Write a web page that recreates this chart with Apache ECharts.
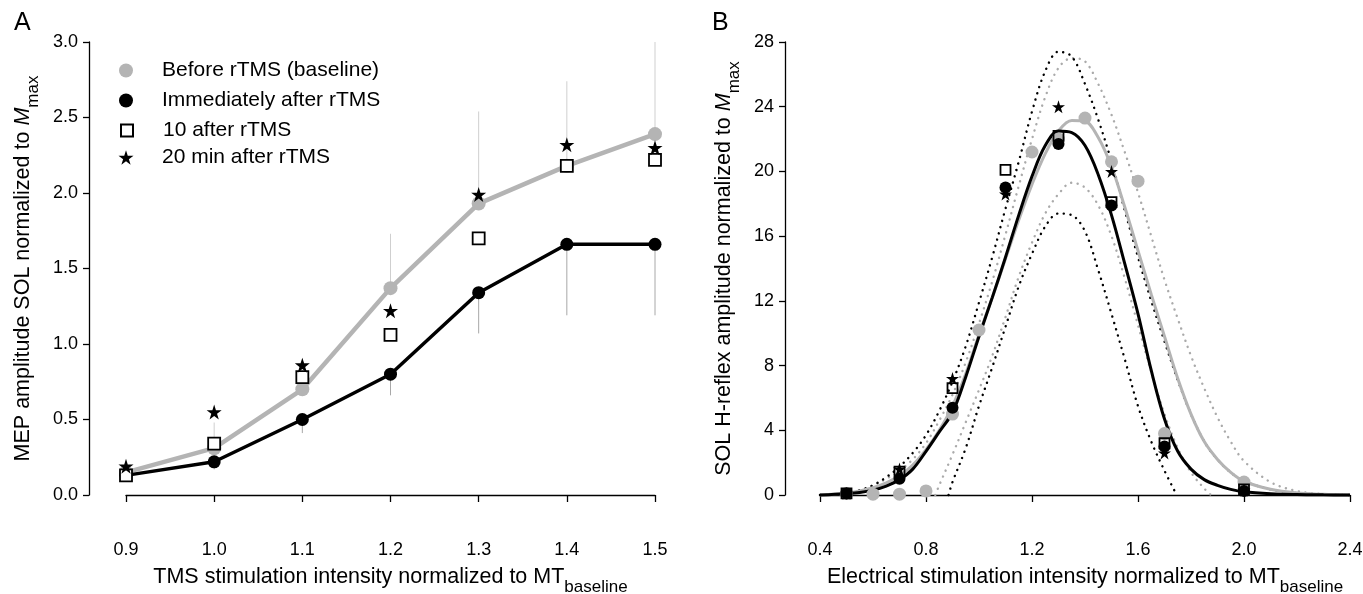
<!DOCTYPE html>
<html>
<head>
<meta charset="utf-8">
<script src="https://cdn.jsdelivr.net/npm/echarts@6/dist/echarts.min.js"></script>
<style>
html,body{margin:0;padding:0;background:#fff;}
#chart{width:1363px;height:594px;}
</style>
</head>
<body>
<div id="chart"></div>
<script>
// ---------- Panel A data ----------
const xA = [0.9, 1.0, 1.1, 1.2, 1.3, 1.4, 1.5];
const baselineA = [0.15, 0.31, 0.70, 1.37, 1.93, 2.18, 2.39];
const immediateA = [0.13, 0.22, 0.50, 0.80, 1.34, 1.66, 1.66];
const after10A = [0.13, 0.34, 0.78, 1.06, 1.70, 2.18, 2.22];
const after20A = [0.19, 0.55, 0.86, 1.22, 1.99, 2.32, 2.30];
const errUpA = [null, 0.48, null, 1.73, 2.54, 2.74, 3.0];
const errLoA = [null, 0.17, 0.41, 0.66, 1.07, 1.19, 1.19];
const ticksAX = [0.9, 1.5, 0.1];
const ticksAY = [0, 3, 0.5];

// ---------- Panel B data ----------
const xBaseB = [0.5, 0.6, 0.7, 0.8, 0.9, 1.0, 1.2, 1.3, 1.4, 1.5, 1.6, 1.7, 2.0];
const baselineB = [0.1, 0.05, 0.05, 0.25, 5.0, 10.2, 21.2, 22.0, 23.3, 20.6, 19.4, 3.8, 0.8];
const xPostB = [0.5, 0.7, 0.9, 1.1, 1.3, 1.5, 1.7, 2.0];
const immediateB = [0.1, 1.0, 5.4, 19.0, 21.7, 17.9, 3.0, 0.25];
const after10B = [0.1, 1.45, 6.6, 20.1, 22.2, 18.1, 3.2, 0.35];
const after20B = [0.1, 1.6, 7.2, 18.6, 24.0, 20.0, 2.6, 0.3];

const curveX = [0.4,0.5,0.55,0.6,0.65,0.7,0.75,0.8,0.85,0.9,0.95,1.0,1.05,1.1,1.15,1.2,1.25,1.3,1.35,1.4,1.45,1.5,1.55,1.6,1.65,1.7,1.75,1.8,1.85,1.9,1.95,2.0,2.1,2.2,2.3,2.4];
const fitBlackB = [0,0.08,0.15,0.3,0.55,0.95,1.6,2.7,3.9,5.1,7.3,9.8,12.2,14.7,17.3,19.7,21.6,22.5,22.4,21.6,19.8,17.3,14.3,11.2,7.7,4.7,2.7,1.6,0.95,0.6,0.35,0.2,0.08,0.03,0.01,0];
const fitGrayB = [0,0.12,0.25,0.45,0.75,1.2,1.85,2.8,4.0,5.5,7.5,9.9,12.2,14.6,17.0,19.2,21.1,22.5,23.15,23.1,22.1,20.3,17.8,15.1,12.4,9.8,7.2,5.0,3.3,2.2,1.4,0.85,0.35,0.12,0.04,0];
const ciBlackUpB = [0,0.1,0.3,0.6,1.1,1.75,2.6,3.7,5.2,7.0,9.2,11.9,14.7,17.7,20.6,23.7,26.2,27.4,27.1,25.4,23.2,20.6,17.6,14.7,12.0,9.5,7.1,5.0,3.3,2.2,1.4,0.85,0.35,0.12,0.04,0];
const ciGrayUpB = [0,0.05,0.2,0.6,1.0,1.5,2.2,3.2,4.6,6.2,8.2,10.6,13.2,16.1,19.1,22.0,24.6,26.4,27.0,26.8,25.4,23.5,21.2,18.7,16.0,13.3,10.9,8.6,6.6,4.8,3.3,2.1,0.8,0.25,0.06,0];
const ciBlackLoX = [0.885,0.9,0.95,1.0,1.05,1.1,1.15,1.2,1.25,1.3,1.35,1.4,1.45,1.5,1.55,1.6,1.65,1.7,1.746];
const ciBlackLoB = [0,0.8,2.9,5.5,7.9,10.4,12.9,14.9,16.6,17.4,17.3,16.3,13.9,11.2,8.4,5.5,3.3,1.5,0];
const ciGrayLoX = [0.835,0.85,0.9,0.95,1.0,1.05,1.1,1.15,1.2,1.25,1.3,1.35,1.4,1.45,1.5,1.55,1.6,1.65,1.7,1.75,1.8,1.85,1.875];
const ciGrayLoB = [0,0.6,2.5,4.5,6.5,8.6,11.0,13.5,15.6,17.4,18.6,19.3,19.0,17.9,16.0,13.4,10.5,7.6,5.0,2.9,1.4,0.4,0];
const ticksBX = [0.4, 2.4, 0.4];
const ticksBY = [0, 28, 4];

const names = ['Before rTMS (baseline)', 'Immediately after rTMS', '10 after rTMS', '20 min after rTMS'];

// ---------- helpers ----------
const zip = (xs, ys) => xs.map((x, i) => [x, ys[i]]);
const STAR = 'path://M50,0 L61.2,34.5 L97.6,34.5 L68.2,55.9 L79.4,90.5 L50,69.1 L20.6,90.5 L31.8,55.9 L2.4,34.5 L38.8,34.5 Z';
const GRAY = '#b4b4b4';
const FONT = "'Liberation Sans', Arial, sans-serif";

function errData(xs, from, to) {
  const out = [];
  xs.forEach((x, i) => { if (to[i] != null) out.push([x, from[i], to[i]]); });
  return out;
}
function errSeries(data, color) {
  return {
    type: 'custom', xAxisIndex: 0, yAxisIndex: 0, silent: true, z: 1,
    data: data,
    encode: { x: 0, y: [1, 2] },
    renderItem: function (params, api) {
      const x = api.value(0);
      const p1 = api.coord([x, api.value(1)]);
      const p2 = api.coord([x, api.value(2)]);
      return { type: 'line', shape: { x1: p1[0], y1: p1[1], x2: p2[0], y2: p2[1] },
               style: { stroke: color, lineWidth: 1 } };
    }
  };
}
const titleRich = {
  m: { fontSize: 21.5, color: '#000', fontFamily: FONT, verticalAlign: 'top', lineHeight: 23 },
  i: { fontSize: 21.5, color: '#000', fontFamily: FONT, fontStyle: 'italic', verticalAlign: 'top', lineHeight: 23 },
  s: { fontSize: 17, color: '#000', fontFamily: FONT, verticalAlign: 'bottom', lineHeight: 30 }
};
function xAxisCfg(grid, t, name, fmt) {
  return {
    gridIndex: grid, type: 'value', min: t[0], max: t[1], interval: t[2], offset: 17,
    axisLine: { lineStyle: { color: '#000', width: 1.3 } },
    axisTick: { length: 7, lineStyle: { color: '#000', width: 1.3 } },
    splitLine: { show: false },
    axisLabel: { formatter: fmt, fontSize: 18, margin: 29, color: '#000', fontFamily: FONT },
    name: name, nameLocation: 'middle', nameGap: 54,
    nameTextStyle: { color: '#000', rich: titleRich }
  };
}
function yAxisCfg(grid, t, off, name, gap, fmt) {
  return {
    gridIndex: grid, type: 'value', min: t[0], max: t[1], interval: t[2], offset: off,
    axisLine: { show: true, lineStyle: { color: '#000', width: 1.3 } },
    axisTick: { show: true, length: 6, lineStyle: { color: '#000', width: 1.3 } },
    splitLine: { show: false },
    axisLabel: { formatter: fmt, fontSize: 18, margin: 11, color: '#000', fontFamily: FONT },
    name: name, nameLocation: 'middle', nameGap: gap, nameRotate: 90,
    nameTextStyle: { color: '#000', rich: titleRich }
  };
}
function curve(name, xs, ys, color, dotted, z) {
  return {
    name: name, type: 'line', xAxisIndex: 1, yAxisIndex: 1, data: zip(xs, ys),
    showSymbol: false, symbol: 'none', smooth: 0.35, clip: false, silent: true, z: z,
    lineStyle: dotted ? { color: color, width: 2.4, type: [0.1, 6.5], cap: 'round' }
                      : { color: color, width: 3 }
  };
}
function legendItem(name, icon, top, size, pad) {
  return {
    data: [{ name: name, icon: icon }], orient: 'vertical',
    left: 126 - size / 2, top: top, padding: 0, itemWidth: size, itemHeight: size,
    selectedMode: false,
    textStyle: { fontSize: 21, color: '#000', padding: [0, 0, 0, pad], fontFamily: FONT }
  };
}

const chart = echarts.init(document.getElementById('chart'), null, { renderer: 'canvas' });
const fmt1 = v => (Math.round(v * 10) / 10).toFixed(1);
const fmt0 = v => String(Math.round(v));

const option = {
  animation: false,
  backgroundColor: '#fff',
  textStyle: { fontFamily: FONT },
  title: [
    { text: 'A', left: 9, top: 6, textStyle: { fontSize: 25, fontWeight: 'normal', color: '#000', fontFamily: FONT } },
    { text: 'B', left: 707, top: 6, textStyle: { fontSize: 25, fontWeight: 'normal', color: '#000', fontFamily: FONT } }
  ],
  grid: [
    { left: 126, right: 708, top: 42, bottom: 99, containLabel: false, outerBoundsMode: 'none' },
    { left: 820, right: 13, top: 42, bottom: 99, containLabel: false, outerBoundsMode: 'none' }
  ],
  xAxis: [
    xAxisCfg(0, ticksAX, '{m|TMS stimulation intensity normalized to MT}{s|baseline}', fmt1),
    xAxisCfg(1, ticksBX, '{m|Electrical stimulation intensity normalized to MT}{s|baseline}', fmt1)
  ],
  yAxis: [
    yAxisCfg(0, ticksAY, 37, '{m|MEP amplitude SOL normalized to }{i|M}{s|max}', 47, fmt1),
    yAxisCfg(1, ticksBY, 35, '{m|SOL H-reflex amplitude normalized to }{i|M}{s|max}', 42, fmt0)
  ],
  legend: [
    legendItem(names[0], 'circle', 60, 14, 24),
    legendItem(names[1], 'circle', 90, 14, 24),
    legendItem(names[2], 'rect', 120, 12, 25),
    legendItem(names[3], STAR, 147, 15, 23.5)
  ],
  series: [
    // ---- Panel A ----
    errSeries(errData(xA, baselineA, errUpA), '#cfcfcf'),
    errSeries(errData(xA, immediateA, errLoA), '#a8a8a8'),
    { name: names[0], type: 'line', xAxisIndex: 0, yAxisIndex: 0, data: zip(xA, baselineA),
      symbol: 'circle', symbolSize: 14, clip: false, z: 2,
      itemStyle: { color: GRAY, opacity: 1 }, lineStyle: { color: GRAY, width: 4.5 } },
    { name: names[1], type: 'line', xAxisIndex: 0, yAxisIndex: 0, data: zip(xA, immediateA),
      symbol: 'circle', symbolSize: 13, clip: false, z: 3,
      itemStyle: { color: '#000', opacity: 1 }, lineStyle: { color: '#000', width: 3.5 } },
    { name: names[2], type: 'scatter', xAxisIndex: 0, yAxisIndex: 0, data: zip(xA, after10A),
      symbol: 'rect', symbolSize: 12, clip: false, z: 4,
      itemStyle: { color: '#fff', borderColor: '#000', borderWidth: 1.8, opacity: 1 } },
    { name: names[3], type: 'scatter', xAxisIndex: 0, yAxisIndex: 0, data: zip(xA, after20A),
      symbol: STAR, symbolSize: 15, clip: false, z: 5,
      itemStyle: { color: '#000', opacity: 1 } },

    // ---- Panel B ----
    curve('B ci gray upper', curveX, ciGrayUpB, '#aaaaaa', true, 2),
    curve('B ci gray lower', ciGrayLoX, ciGrayLoB, '#aaaaaa', true, 2),
    curve('B ci black upper', curveX, ciBlackUpB, '#000', true, 2),
    curve('B ci black lower', ciBlackLoX, ciBlackLoB, '#000', true, 2),
    curve('B fit baseline', curveX, fitGrayB, GRAY, false, 3),
    curve('B fit immediate', curveX, fitBlackB, '#000', false, 3),
    { name: 'B baseline', type: 'scatter', xAxisIndex: 1, yAxisIndex: 1, data: zip(xBaseB, baselineB),
      symbol: 'circle', symbolSize: 13, clip: false, z: 4, itemStyle: { color: GRAY, opacity: 1 } },
    { name: 'B immediate', type: 'scatter', xAxisIndex: 1, yAxisIndex: 1, data: zip(xPostB, immediateB),
      symbol: 'circle', symbolSize: 12, clip: false, z: 5, itemStyle: { color: '#000', opacity: 1 } },
    { name: 'B 10 after', type: 'scatter', xAxisIndex: 1, yAxisIndex: 1, data: zip(xPostB, after10B),
      symbol: 'rect', symbolSize: 10, clip: false, z: 6,
      itemStyle: { color: 'rgba(255,255,255,0)', borderColor: '#000', borderWidth: 1.8, opacity: 1 } },
    { name: 'B 20 after', type: 'scatter', xAxisIndex: 1, yAxisIndex: 1, data: zip(xPostB, after20B),
      symbol: STAR, symbolSize: 13, clip: false, z: 7, itemStyle: { color: '#000', opacity: 1 } }
  ]
};
chart.setOption(option);
</script>
</body>
</html>
